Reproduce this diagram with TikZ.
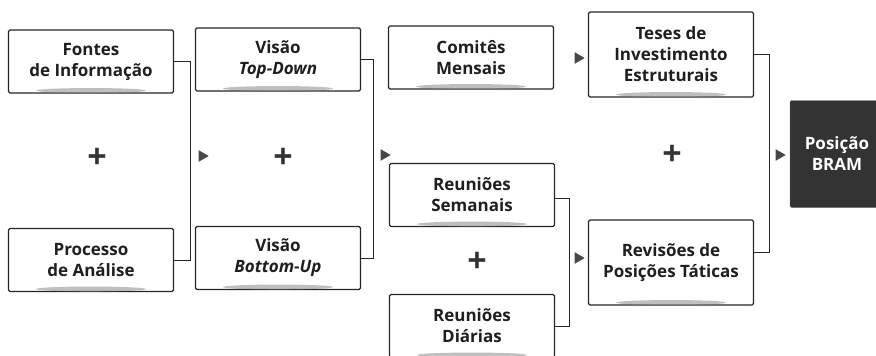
\documentclass[tikz,border=0pt]{standalone}
\usepackage{fontspec}
\setmainfont{Open Sans}
\usetikzlibrary{shapes.geometric}

\begin{document}
\begin{tikzpicture}[x = 1pt, y = -1pt,
    caixa/.style  = {draw = black!85, line width = 1.1pt, rounded corners = 1.5pt,
                     fill = white, align = center, text = black!88, inner sep = 0pt,
                     minimum width = 165pt, minimum height = 63pt,
                     font = \fontsize{17}{21}\selectfont\bfseries},
    escura/.style = {draw = black!60, fill = black!80, rounded corners = 2pt,
                     align = center, text = white, inner sep = 0pt,
                     minimum width = 94pt, minimum height = 107pt,
                     font = \fontsize{17}{21}\selectfont\bfseries},
    seta/.style   = {isosceles triangle, isosceles triangle apex angle = 60,
                     fill = black!72, inner sep = 0pt, minimum height = 10pt},
    mais/.style   = {text = black!80, inner sep = 0pt,
                     font = \fontsize{34}{34}\selectfont\bfseries},
    liga/.style   = {draw = black!85, line width = 1pt},
    sombra/.style = {fill = black!45, opacity = 0.55}]

  \useasboundingbox (0,0) rectangle (876,356);

  % first column
  \node[caixa] at ( 91,  61.5) (fontes)   {Fontes\\de Informação};
  \node[caixa] at ( 91, 260  ) (processo) {Processo\\de Análise};
  \node[mais]  at ( 97, 158  ) (mais1)    {+};

  % second column
  \node[caixa] at (278,  59.5) (topdown)  {Visão\\\itshape Top-Down};
  \node[caixa] at (278, 258  ) (bottomup) {Visão\\\itshape Bottom-Up};
  \node[mais]  at (283, 158  ) (mais2)    {+};

  % third column
  \node[caixa] at (471,  57.5) (comites)  {Comitês\\Mensais};
  \node[caixa] at (472, 195  ) (semanais) {Reuniões\\Semanais};
  \node[caixa] at (472, 326  ) (diarias)  {Reuniões\\Diárias};
  \node[mais]  at (477, 262  ) (mais3)    {+};

  % fourth column
  \node[caixa, minimum height = 85pt] at (671,  54.5) (teses)    {Teses de\\Investimento\\Estruturais};
  \node[caixa, minimum height = 85pt] at (671, 262.5) (revisoes) {Revisões de\\Posições Táticas};
  \node[mais]  at (672, 155  ) (mais4)    {+};

  \node[escura] at (837, 154) (bram) {Posição\\BRAM};

  % shadows under the boxes
  \foreach \n in {fontes, processo, topdown, bottomup, comites,
                  semanais, diarias, teses, revisoes}
    \fill[sombra] ([yshift = 3pt]\n.south) ellipse (55pt and 2.5pt);

  % brackets
  \draw[liga] (fontes.east)   -- ++(16,0) |- (processo.east);
  \draw[liga] (topdown.east)  -- ++(12,0) |- (bottomup.east);
  \draw[liga] ([yshift = -3pt]semanais.east) -- ++(14,0) |- (diarias.east);
  \draw[liga] (teses.east)    -- ++(15,0) |- ([yshift = 10pt]revisoes.east);

  % arrow marks
  \node[seta] at (202, 156) (s1) {};
  \node[seta] at (384, 155) (s2) {};
  \node[seta] at (578,  58) (s3) {};
  \node[seta] at (578, 258) (s4) {};
  \node[seta] at (779, 155) (s5) {};
\end{tikzpicture}
\end{document}
